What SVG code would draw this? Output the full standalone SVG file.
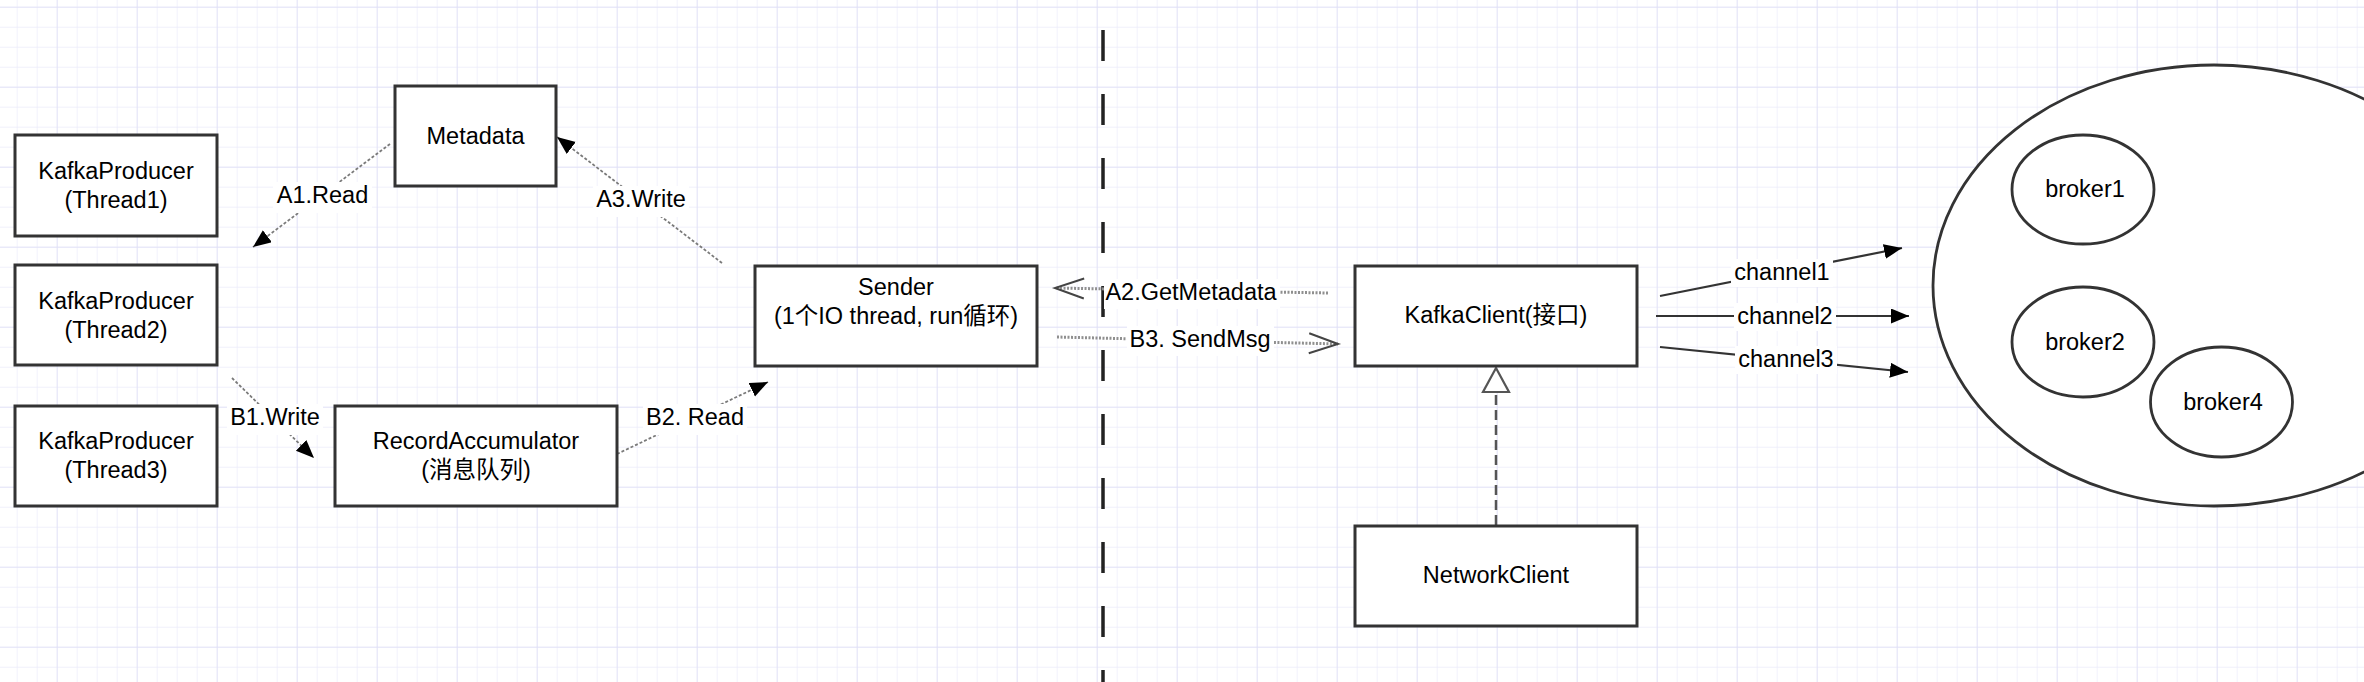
<svg xmlns="http://www.w3.org/2000/svg" width="2364" height="682" viewBox="0 0 2364 682">
  <defs>
    <pattern id="minor" x="16.7" y="6.7" width="20" height="20" patternUnits="userSpaceOnUse">
      <path d="M0,0 H20 M0,0 V20" fill="none" stroke="#ebebfa" stroke-width="1.3"/>
    </pattern>
    <pattern id="major" x="56.7" y="6.7" width="80" height="80" patternUnits="userSpaceOnUse">
      <path d="M0,0 H80 M0,0 V80" fill="none" stroke="#e0e0f6" stroke-width="1.5"/>
    </pattern>
    <marker id="solidHead" markerUnits="userSpaceOnUse" markerWidth="20" markerHeight="16" refX="18" refY="7.5" orient="auto">
      <path d="M0,0 L18,7.5 L0,15 z" fill="#000"/>
    </marker>
    <marker id="openHead" markerUnits="userSpaceOnUse" markerWidth="34" markerHeight="26" refX="30" refY="12" orient="auto">
      <path d="M1,2 L30,12 L1,22" fill="none" stroke="#444" stroke-width="2"/>
    </marker>
    <style>
      .box { fill: #fff; stroke: #333; stroke-width: 3; }
      .ell { fill: #fff; stroke: #333; stroke-width: 2.8; }
      .t { font-family: "Liberation Sans", "Noto Sans CJK SC", sans-serif; font-size: 23.5px; fill: #000; text-anchor: middle; }
      .dot { fill: none; stroke: #7a7a7a; stroke-width: 1.8; stroke-dasharray: 3 2; }
      .fat { fill: none; stroke: #8f8f8f; stroke-width: 3; stroke-dasharray: 2 1.5; }
      .ch { fill: none; stroke: #333; stroke-width: 2.2; }
      .lbg { fill: #fff; }
    </style>
  </defs>

  <rect width="2364" height="682" fill="#fff"/>
  <rect width="2364" height="682" fill="url(#minor)"/>
  <rect width="2364" height="682" fill="url(#major)"/>

  <line id="divider" x1="1103" y1="30" x2="1103" y2="682" stroke="#222" stroke-width="3.5" stroke-dasharray="31 33"/>

  <g id="connectors">
    <line class="dot" x1="390" y1="144" x2="253" y2="247" marker-end="url(#solidHead)"/>
    <line class="dot" x1="722" y1="263" x2="557" y2="137" marker-end="url(#solidHead)"/>
    <line class="dot" x1="232" y1="378" x2="314" y2="458" marker-end="url(#solidHead)"/>
    <line class="dot" x1="617" y1="454" x2="768" y2="382" marker-end="url(#solidHead)"/>
    <line class="fat" x1="1328" y1="293" x2="1055" y2="288" marker-end="url(#openHead)"/>
    <line class="fat" x1="1057" y1="337" x2="1338" y2="344" marker-end="url(#openHead)"/>
    <line class="ch" x1="1660" y1="296" x2="1902" y2="248" marker-end="url(#solidHead)"/>
    <line class="ch" x1="1656" y1="316" x2="1909" y2="316" marker-end="url(#solidHead)"/>
    <line class="ch" x1="1660" y1="347" x2="1908" y2="372" marker-end="url(#solidHead)"/>
    <line x1="1496" y1="525" x2="1496" y2="392" stroke="#555" stroke-width="2.5" stroke-dasharray="10 5"/>
    <path d="M1496,368 L1509,392 L1483,392 z" fill="#fff" stroke="#555" stroke-width="2.2"/>

    <rect class="lbg" x="273" y="182" width="99" height="31"/>
    <text class="t" x="322.5" y="203">A1.Read</text>
    <rect class="lbg" x="593" y="186" width="96" height="31"/>
    <text class="t" x="641" y="207">A3.Write</text>
    <rect class="lbg" x="227" y="404" width="96" height="31"/>
    <text class="t" x="275" y="425">B1.Write</text>
    <rect class="lbg" x="643" y="404" width="104" height="31"/>
    <text class="t" x="695" y="425">B2. Read</text>
    <rect class="lbg" x="1104" y="279" width="176" height="30"/>
    <text class="t" x="1191" y="300">A2.GetMetadata</text>
    <rect class="lbg" x="1127" y="326" width="147" height="30"/>
    <text class="t" x="1200" y="347">B3. SendMsg</text>
    <rect class="lbg" x="1731" y="259" width="102" height="28"/>
    <text class="t" x="1782" y="280">channel1</text>
    <rect class="lbg" x="1734" y="303" width="102" height="28"/>
    <text class="t" x="1785" y="324">channel2</text>
    <rect class="lbg" x="1735" y="346" width="102" height="28"/>
    <text class="t" x="1786" y="367">channel3</text>
  </g>

  <g id="thread1">
    <rect class="box" x="15" y="135" width="202" height="101"/>
    <text class="t" x="116" y="179">KafkaProducer</text>
    <text class="t" x="116" y="208">(Thread1)</text>
  </g>
  <g id="thread2">
    <rect class="box" x="15" y="265" width="202" height="100"/>
    <text class="t" x="116" y="309">KafkaProducer</text>
    <text class="t" x="116" y="338">(Thread2)</text>
  </g>
  <g id="thread3">
    <rect class="box" x="15" y="406" width="202" height="100"/>
    <text class="t" x="116" y="449">KafkaProducer</text>
    <text class="t" x="116" y="478">(Thread3)</text>
  </g>
  <g id="metadata">
    <rect class="box" x="395" y="86" width="161" height="100"/>
    <text class="t" x="475.5" y="144">Metadata</text>
  </g>
  <g id="recordAccumulator">
    <rect class="box" x="335" y="406" width="282" height="100"/>
    <text class="t" x="476" y="449">RecordAccumulator</text>
    <text class="t" x="476" y="478">(消息队列)</text>
  </g>
  <g id="sender">
    <rect class="box" x="755" y="266" width="282" height="100"/>
    <text class="t" x="896" y="295">Sender</text>
    <text class="t" x="896" y="324">(1个IO thread, run循环)</text>
  </g>
  <g id="kafkaClient">
    <rect class="box" x="1355" y="266" width="282" height="100"/>
    <text class="t" x="1496" y="323">KafkaClient(接口)</text>
  </g>
  <g id="networkClient">
    <rect class="box" x="1355" y="526" width="282" height="100"/>
    <text class="t" x="1496" y="583">NetworkClient</text>
  </g>
  <g id="cluster">
    <ellipse class="ell" cx="2214" cy="285.5" rx="281" ry="220.5"/>
  </g>
  <g id="broker1">
    <ellipse class="ell" cx="2083" cy="189.5" rx="71" ry="54.5"/>
    <text class="t" x="2085" y="197">broker1</text>
  </g>
  <g id="broker2">
    <ellipse class="ell" cx="2083" cy="342" rx="71" ry="55"/>
    <text class="t" x="2085" y="350">broker2</text>
  </g>
  <g id="broker4">
    <ellipse class="ell" cx="2221.5" cy="402" rx="71" ry="55"/>
    <text class="t" x="2223" y="410">broker4</text>
  </g>
</svg>
